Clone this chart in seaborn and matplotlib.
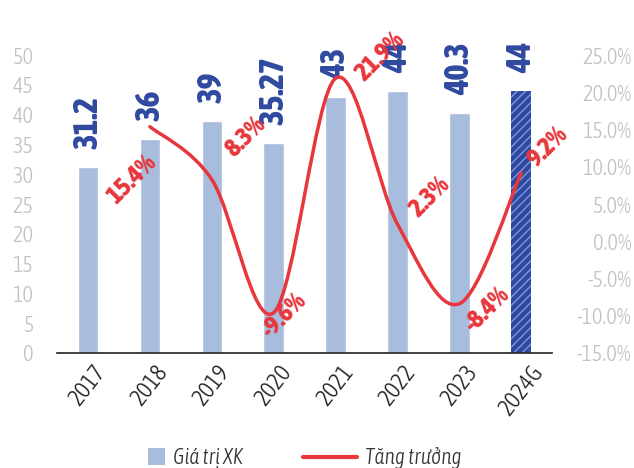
import numpy as np
import pandas as pd
import seaborn as sns
import matplotlib.pyplot as plt
from matplotlib import font_manager
from matplotlib.font_manager import FontProperties
from matplotlib.path import Path
from matplotlib.patches import PathPatch, Patch
from matplotlib.lines import Line2D

# ---------- data ----------
years = ["2017", "2018", "2019", "2020", "2021", "2022", "2023", "2024G"]
export_value = [31.2, 36, 39, 35.27, 43, 44, 40.3, 44]
growth_years = ["2018", "2019", "2020", "2021", "2022", "2023", "2024G"]
growth_pct = [15.4, 8.3, -9.6, 21.9, 2.3, -8.4, 9.2]
growth_labels = ["15.4%", "8.3%", "-9.6%", "21.9%", "2.3%", "-8.4%", "9.2%"]
left_ticks = [0, 5, 10, 15, 20, 25, 30, 35, 40, 45, 50]
right_ticks = [-15, -10, -5, 0, 5, 10, 15, 20, 25]

# ---------- fonts ----------
sns.set_theme(style="white")


def as_num(w, table):
    if isinstance(w, str):
        return table.get(w, 400)
    return w


narrow = [f for f in font_manager.fontManager.ttflist
          if as_num(f.stretch, font_manager.stretch_dict) < 500
          or "Narrow" in f.name or "Condensed" in f.name]


def pick(weight, style="normal"):
    """narrowest installed face close to the wanted weight"""
    pool = [f for f in narrow if f.style == style] or narrow
    if not pool:
        return FontProperties(family="DejaVu Sans", weight=weight, style=style)
    best = min(pool, key=lambda f: (abs(as_num(f.weight, font_manager.weight_dict) - weight) > 150,
                                    as_num(f.stretch, font_manager.stretch_dict),
                                    abs(as_num(f.weight, font_manager.weight_dict) - weight)))
    return FontProperties(fname=best.fname)


fp_heavy = pick(800)
fp_light = pick(300)
fp_italic = pick(300, "italic")
fp_legend = fp_italic.copy()
fp_legend.set_size(15.5)
plt.rcParams["font.family"] = ["DejaVu Sans"]
plt.rcParams["hatch.linewidth"] = 1.0

BAR = "#A8BDDD"
DARK = "#2F49A0"
RED = "#E8363C"
GREY = "#C2C2C2"

df = pd.DataFrame({"year": years, "value": export_value})

fig = plt.figure(figsize=(6.34, 4.68), dpi=100)
ax = fig.add_axes([0.09, 0.246, 0.781, 0.636])

sns.barplot(data=df, x="year", y="value", color=BAR, width=0.33,
            saturation=1, ax=ax)
last = ax.patches[-1]
last.set_facecolor(DARK)
last.set_hatch("////")
last.set_edgecolor("#7F98DA")
last.set_linewidth(0)

ax.set_xlim(-0.5, 7.5)
ax.set_ylim(0, 50)
ax.set_yticks(left_ticks)
ax.set_xlabel("")
ax.set_ylabel("")
ax.tick_params(axis="y", colors=GREY, length=0, pad=17)
ax.tick_params(axis="x", colors="#222222", length=0, pad=6)
for lab in ax.get_yticklabels():
    lab.set_fontproperties(fp_light)
    lab.set_fontsize(16)
for lab in ax.get_xticklabels():
    lab.set_fontproperties(fp_light)
    lab.set_fontsize(17)
    lab.set_rotation(52)
    lab.set_ha("center")
    lab.set_va("top")
for s in ["top", "left", "right"]:
    ax.spines[s].set_visible(False)
ax.spines["bottom"].set_color("#222222")
ax.spines["bottom"].set_linewidth(1.2)

# value labels above bars
for i, v in enumerate(export_value):
    ax.annotate(f"{v:g}", (i, v), xytext=(0, 13), textcoords="offset points",
                rotation=90, ha="center", va="bottom", fontproperties=fp_heavy,
                fontsize=24, color=DARK, annotation_clip=False)

# ---------- growth line (smoothed, secondary axis) ----------
ax2 = ax.twinx()
ax2.set_ylim(-15, 25)
ax2.set_yticks(right_ticks)
ax2.set_yticklabels([f"{t:.1f}%" for t in right_ticks])
ax2.tick_params(axis="y", colors=GREY, length=0, pad=57)
for lab in ax2.get_yticklabels():
    lab.set_fontproperties(fp_light)
    lab.set_fontsize(16)
    lab.set_ha("right")
for s in ax2.spines.values():
    s.set_visible(False)
ax2.grid(False)

xs = [years.index(y) for y in growth_years]
pts = np.column_stack([xs, growth_pct]).astype(float)
verts = [tuple(pts[0])]
codes = [Path.MOVETO]
n = len(pts)
for k in range(n - 1):
    p0 = pts[max(k - 1, 0)]
    p1 = pts[k]
    p2 = pts[k + 1]
    p3 = pts[min(k + 2, n - 1)]
    c1 = p1 + (p2 - p0) / 6
    c2 = p2 - (p3 - p1) / 6
    verts += [tuple(c1), tuple(c2), tuple(p2)]
    codes += [Path.CURVE4] * 3
ax2.add_patch(PathPatch(Path(verts, codes), facecolor="none", edgecolor=RED,
                        lw=2.5, capstyle="round", joinstyle="round"))

offsets = [(-13, -38), (24, 31), (7, -2), (32, 16), (23, 20), (20, -4), (19, 19)]
for x, v, lab, off in zip(xs, growth_pct, growth_labels, offsets):
    ax2.annotate(lab, (x, v), xytext=off, textcoords="offset points",
                 rotation=45, ha="center", va="center", fontproperties=fp_heavy,
                 fontsize=19, color=RED, annotation_clip=False)

# ---------- legend (two pieces so the square and the line differ) ----------
leg1 = fig.legend([Patch(facecolor=BAR, edgecolor="none")], ["Giá trị XK"],
                  loc="center left", bbox_to_anchor=(148 / 634, 0.021),
                  frameon=False, prop=fp_legend, borderpad=0,
                  borderaxespad=0, handlelength=0.8, handleheight=0.8,
                  handletextpad=0.37)
leg2 = fig.legend([Line2D([0], [0], color=RED, lw=3)], ["Tăng trưởng"],
                  loc="center left", bbox_to_anchor=(303 / 634, 0.021),
                  frameon=False, prop=fp_legend, borderpad=0,
                  borderaxespad=0, handlelength=2.5, handletextpad=0.37)
for leg in (leg1, leg2):
    for t in leg.get_texts():
        t.set_color("#333333")

# title, almost completely cut off at the top in the source picture
fig.text(518 / 634, 1.012, "Xuất khẩu dệt may của Việt Nam (tỷ USD)", ha="right",
         va="baseline", fontsize=17, fontweight="bold", color="black")

fig.savefig("out.png", dpi=100)
